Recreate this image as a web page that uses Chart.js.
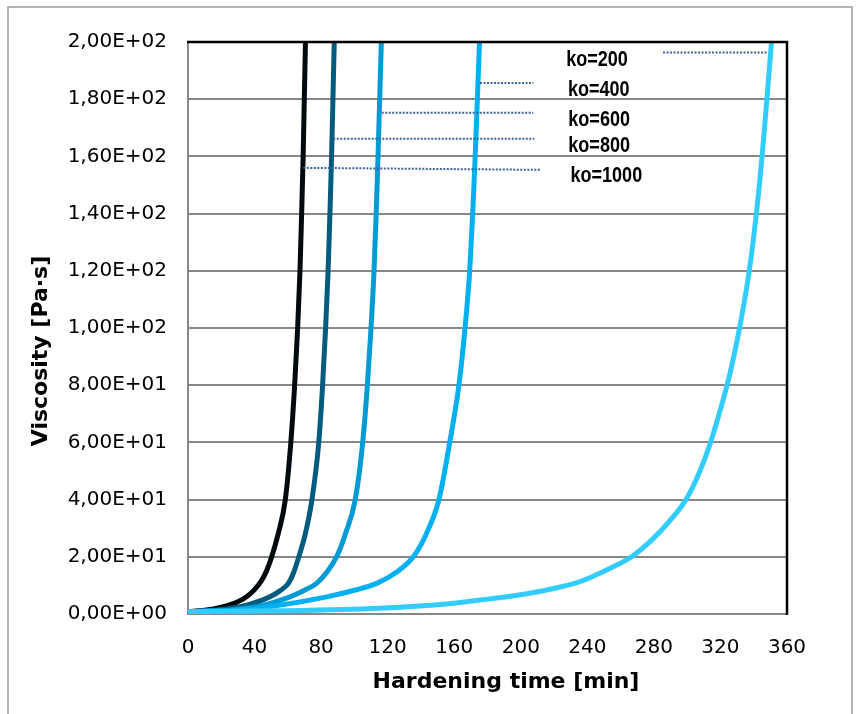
<!DOCTYPE html>
<html>
<head>
<meta charset="utf-8">
<script src="https://cdn.jsdelivr.net/npm/chart.js@4.4.1/dist/chart.umd.min.js"></script>
<style>
  html, body { margin: 0; padding: 0; background: #fff; }
  #wrap { position: relative; width: 857px; height: 714px; }
</style>
</head>
<body>
<div id="wrap"><canvas id="viscChart" width="857" height="714"></canvas></div>
<script>
// values: time [min] and viscosity [Pa·s] per curve
const seriesNames = ['ko=200', 'ko=400', 'ko=600', 'ko=800', 'ko=1000'];
const seriesColors = ['#33ccff', '#00b0f0', '#009bd4', '#005b7e', '#020a0e'];

const time200 = [0, 55, 115, 155, 175.5, 195, 215.6, 235.6, 255.6, 266.6, 280, 290, 299.3, 307, 313.5, 319, 324, 328, 331.5, 334.6, 337.3, 339.6, 341.6, 343.4, 345, 346.5, 347.9, 349.3, 350.7];
const visc200 = [0.8, 1.1, 2, 3.5, 4.9, 6.3, 8.4, 11.3, 16.5, 20, 26.6, 32.9, 40, 49, 59, 69.5, 80, 90, 100, 110, 120, 130, 140, 150, 160, 170, 180, 190, 200];

const time400 = [0, 31, 55.3, 83.3, 100, 113.4, 125, 135.4, 143.2, 150.8, 157.3, 162.8, 166.5, 169.3, 171.1, 172.6, 173.9, 175.2];
const visc400 = [0.8, 1.4, 3.1, 6, 8.3, 10.7, 14.5, 20, 28, 40, 60, 80, 100, 120, 140, 160, 180, 200];

const time600 = [0, 25, 45.3, 61.3, 70, 77.3, 84, 89.3, 94.6, 100.5, 105, 107.8, 110, 111.8, 113.1, 114.2, 115.2, 116.2];
const visc600 = [0.8, 1.4, 3.1, 6, 8.3, 10.7, 15, 20, 28, 40, 60, 80, 100, 120, 140, 160, 180, 200];

const time800 = [0, 10, 20, 30, 35.3, 42, 49.3, 55, 60.3, 63.5, 66.6, 70.5, 74.5, 78.6, 80.9, 82.7, 84.2, 85.3, 86.3, 87.1, 87.9];
const visc800 = [0.8, 1.1, 1.6, 2.4, 3.1, 4.3, 6, 8, 10.7, 14.5, 20, 28, 40, 60, 80, 100, 120, 140, 160, 180, 200];

const time1000 = [0, 10, 20, 30, 36, 40, 44.5, 47.5, 50.3, 54.2, 58.5, 61.8, 64.1, 65.9, 67.3, 68.3, 69.2, 69.9, 70.6];
const visc1000 = [0.8, 1.3, 2.4, 4.3, 6.4, 8.5, 12, 15.5, 20, 28, 40, 60, 80, 100, 120, 140, 160, 180, 200];

// label anchors and dotted leader lines, in data units
const labelTime = [245.8, 246.9, 247.1, 247.1, 251.4];
const labelVisc = [191.6, 181.1, 170.8, 161.5, 151.2];
const leaderFrom = [[285.5, 196.3], [175.5, 185.7], [116.4, 175.3], [87.3, 166.2], [69.3, 156.0]];
const leaderTo = [[348.6, 196.3], [207.5, 185.7], [207.5, 175.3], [208.1, 166.2], [212.0, 155.3]];

const xTicksMax = 360, xStep = 40;
const yTicksMax = 200, yStep = 20;

function pts(t, v) {
  return t.map(function (x, i) { return { x: x, y: v[i] }; });
}

function sci(v) {
  if (v === 0) return '0,00E+00';
  let e = Math.floor(Math.log10(v) + 1e-9);
  let m = v / Math.pow(10, e);
  return m.toFixed(2).replace('.', ',') + 'E+' + String(e).padStart(2, '0');
}

const curves = [
  pts(time200, visc200), pts(time400, visc400), pts(time600, visc600),
  pts(time800, visc800), pts(time1000, visc1000)
];

let datasets = [];
for (let i = 0; i < leaderFrom.length; i++) {
  datasets.push({
    label: 'leader ' + seriesNames[i],
    data: [{ x: leaderFrom[i][0], y: leaderFrom[i][1] }, { x: leaderTo[i][0], y: leaderTo[i][1] }],
    showLine: true,
    borderColor: '#3f6299',
    borderWidth: 2,
    borderDash: [2, 1.5],
    pointRadius: 0,
    order: 1
  });
}
for (let i = 0; i < curves.length; i++) {
  datasets.push({
    label: seriesNames[i],
    data: curves[i],
    showLine: true,
    borderColor: seriesColors[i],
    backgroundColor: seriesColors[i],
    borderWidth: 5,
    pointRadius: 0,
    cubicInterpolationMode: 'monotone',
    order: 2
  });
}

// frame, top/right border, axis titles and curve labels
const decor = {
  id: 'decor',
  beforeDraw: function (chart) {
    const ctx = chart.ctx;
    ctx.save();
    ctx.fillStyle = '#fff';
    ctx.fillRect(0, 0, chart.width, chart.height);
    ctx.strokeStyle = '#9a9a9a';
    ctx.lineWidth = 1.5;
    ctx.strokeRect(8, 7, 844, 720);
    ctx.restore();
  },
  afterDraw: function (chart) {
    const ctx = chart.ctx;
    const a = chart.chartArea;
    const xs = chart.scales.x, ys = chart.scales.y;
    ctx.save();
    ctx.strokeStyle = '#000';
    ctx.lineWidth = 2.5;
    ctx.beginPath();
    ctx.moveTo(a.left - 1, a.top);
    ctx.lineTo(a.right, a.top);
    ctx.lineTo(a.right, a.bottom + 1);
    ctx.stroke();

    ctx.fillStyle = '#000';
    ctx.textAlign = 'center';
    ctx.textBaseline = 'alphabetic';
    ctx.font = 'bold 22px "DejaVu Sans"';
    ctx.fillText('Hardening time [min]', 506, 688);

    ctx.save();
    ctx.translate(47, 351);
    ctx.rotate(-Math.PI / 2);
    ctx.fillText('Viscosity [Pa·s]', 0, 0);
    ctx.restore();

    ctx.font = 'bold 22px "Liberation Sans", Arial, sans-serif';
    for (let i = 0; i < seriesNames.length; i++) {
      const px = xs.getPixelForValue(labelTime[i]);
      const py = ys.getPixelForValue(labelVisc[i]);
      ctx.save();
      ctx.translate(px, py);
      ctx.scale(0.82, 1);
      ctx.fillText(seriesNames[i], 0, 0);
      ctx.restore();
    }
    ctx.restore();
  }
};

const ctx = document.getElementById('viscChart').getContext('2d');
const viscChart = new Chart(ctx, {
  type: 'scatter',
  data: { datasets: datasets },
  options: {
    responsive: false,
    animation: false,
    devicePixelRatio: 1,
    layout: { padding: { left: 10, top: 42, right: 70, bottom: 10 } },
    plugins: {
      legend: { display: false },
      tooltip: { enabled: false }
    },
    scales: {
      x: {
        type: 'linear',
        min: 0,
        max: xTicksMax,
        ticks: {
          stepSize: xStep,
          padding: 22,
          color: '#000',
          font: { family: '"DejaVu Sans"', size: 20 },
          maxRotation: 0
        },
        grid: { display: false, drawTicks: false },
        border: { display: true, color: '#878787', width: 2 },
        afterFit: function (scale) { scale.height = 90; }
      },
      y: {
        type: 'linear',
        min: 0,
        max: yTicksMax,
        ticks: {
          stepSize: yStep,
          padding: 21,
          color: '#000',
          font: { family: '"DejaVu Sans"', size: 20 },
          callback: function (v) { return sci(v); }
        },
        grid: { color: '#878787', lineWidth: 2, drawTicks: false },
        border: { display: true, color: '#878787', width: 2 },
        afterFit: function (scale) { scale.width = 178; }
      }
    }
  },
  plugins: [decor]
});
</script>
</body>
</html>
